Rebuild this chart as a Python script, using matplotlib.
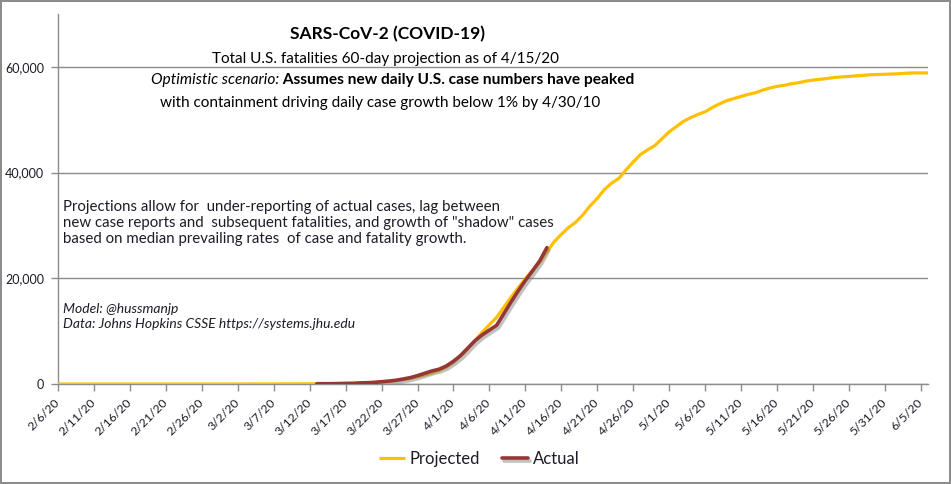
import datetime as dt

import matplotlib
matplotlib.use('Agg')
import matplotlib.pyplot as plt
import matplotlib.patheffects as pe
from matplotlib.transforms import ScaledTranslation

plt.rcParams['font.family'] = ['Lato', 'DejaVu Sans']

START = dt.date(2020, 2, 6)

# cumulative U.S. fatalities, one value per day from 2/6/20
projected = [
    0, 0, 0, 0, 0, 0, 0, 0, 0, 0, 0, 0, 0, 0, 0, 0, 0, 0, 0, 0, 0, 0, 0, 0,
    1, 2, 5, 7, 10, 12, 15, 18, 21, 25, 29, 34, 40, 50, 60, 80,
    100, 140, 180, 230, 300, 380, 480, 620, 800, 1050,
    1350, 1700, 2100, 2550, 3200, 4100, 5300, 6700, 8200, 9800,
    11200, 12600, 14500, 16400, 18200, 19900, 21500, 23000, 25000, 26900,
    28300, 29600, 30600, 32000, 33700, 35100, 36800, 38000, 38900, 40500,
    42000, 43400, 44300, 45100, 46400, 47700, 48700, 49700, 50400, 51000,
    51500, 52300, 53000, 53600, 54000, 54400, 54800, 55100, 55600, 56000,
    56300, 56500, 56800, 57000, 57300, 57500, 57650, 57800, 58000, 58100,
    58200, 58300, 58400, 58500, 58550, 58600, 58650, 58700, 58800, 58850,
    58850, 58850,
]
actual_start = 36  # 3/13/20
actual = [
    47, 54, 63, 85, 108, 118, 200, 244, 307, 427, 552, 706, 942, 1209,
    1581, 2026, 2467, 2800, 3400, 4300, 5400, 6800, 8200, 9300, 10200,
    11100, 13300, 15500, 17600, 19600, 21400, 23300, 25800,
]

title = 'SARS-CoV-2 (COVID-19)'
subtitle = 'Total U.S. fatalities 60-day projection as of 4/15/20'
scen_it = 'Optimistic scenario:'
scen_bold = ' Assumes new daily U.S. case numbers have peaked'
scen_2 = 'with containment driving daily case growth below 1% by 4/30/10'
note = ('Projections allow for  under-reporting of actual cases, lag between\n'
        'new case reports and  subsequent fatalities, and growth of "shadow" cases\n'
        'based on median prevailing rates  of case and fatality growth.')
credits = 'Model: @hussmanjp\nData: Johns Hopkins CSSE https://systems.jhu.edu'

C_PROJ = '#FFC000'
C_ACT = '#953735'
C_GRID = '#8c8c8c'
C_TXT = '#1c1c28'

days = list(range(len(projected)))
act_days = list(range(actual_start, actual_start + len(actual)))
dates = [START + dt.timedelta(days=d) for d in days]
tick_days = days[::5]
tick_labels = [f"{dates[d].month}/{dates[d].day}/20" for d in tick_days]

fig = plt.figure(figsize=(9.51, 4.84), dpi=100)
fig.patch.set_facecolor('white')
fig.patch.set_edgecolor('#8c8c8c')
fig.patch.set_linewidth(1.5)
ax = fig.add_axes([58 / 951, 1 - 384 / 484, 870 / 951, 370 / 484])

ax.plot(days, projected, color=C_PROJ, lw=2.3, label='Projected', zorder=3,
        solid_capstyle='butt')
ax.plot(act_days, actual, color=C_ACT, lw=2.6, label='Actual', zorder=4,
        solid_capstyle='round',
        path_effects=[pe.SimpleLineShadow(offset=(1.5, -1.8), shadow_color='#777', alpha=0.45),
                      pe.Normal()])

ax.set_xlim(0, 121)
ax.set_ylim(0, 70000)
ax.set_yticks([0, 20000, 40000, 60000])
ax.set_yticklabels(['0', '20,000', '40,000', '60,000'])
ax.set_xticks(tick_days)
ax.set_xticklabels(tick_labels, rotation=45, ha='right', va='center',
                   rotation_mode='anchor')
shift = ScaledTranslation(6 / 100, 0, fig.dpi_scale_trans)
for lbl in ax.get_xticklabels():
    lbl.set_transform(lbl.get_transform() + shift)
ax.yaxis.grid(True, color=C_GRID, lw=1.0)
ax.set_axisbelow(True)
for s in ('top', 'right'):
    ax.spines[s].set_visible(False)
for s in ('left', 'bottom'):
    ax.spines[s].set_color(C_GRID)
    ax.spines[s].set_linewidth(1.0)
ax.tick_params(axis='both', colors=C_GRID, length=5, width=1.0, direction='out')
ax.tick_params(axis='y', labelcolor=C_TXT, labelsize=9, pad=5)
ax.tick_params(axis='x', labelcolor=C_TXT, labelsize=8.8, pad=7)

# header text
fig.text(387 / 951, 1 - 39 / 484, title, ha='center', va='baseline',
         fontsize=12.5, fontweight='bold', color='black')
fig.text(386 / 951, 1 - 63 / 484, subtitle, ha='center', va='baseline',
         fontsize=11, color='black')
t1 = fig.text(151 / 951, 1 - 84 / 484, scen_it, ha='left', va='baseline',
              fontsize=11.2, fontstyle='italic', color='black')
fig.canvas.draw()
bb = t1.get_window_extent()
fig.text(bb.x1 / fig.bbox.width, 1 - 84 / 484, scen_bold, ha='left', va='baseline',
         fontsize=11.2, fontweight='bold', color='black')
fig.text(380 / 951, 1 - 107 / 484, scen_2, ha='center', va='baseline',
         fontsize=11, color='black')

fig.text(63 / 951, 1 - 200 / 484, note, ha='left', va='top',
         fontsize=10.8, color=C_TXT, linespacing=1.2)
fig.text(63 / 951, 1 - 303 / 484, credits, ha='left', va='top',
         fontsize=10, fontstyle='italic', color=C_TXT, linespacing=1.3)

fig.legend(loc='center', bbox_to_anchor=(479 / 951, 1 - 459 / 484), ncol=2,
           frameon=False, fontsize=12, handlelength=1.6, handletextpad=0.25,
           columnspacing=1.3, labelcolor=C_TXT)

fig.savefig('out.png', dpi=100, facecolor='white')
